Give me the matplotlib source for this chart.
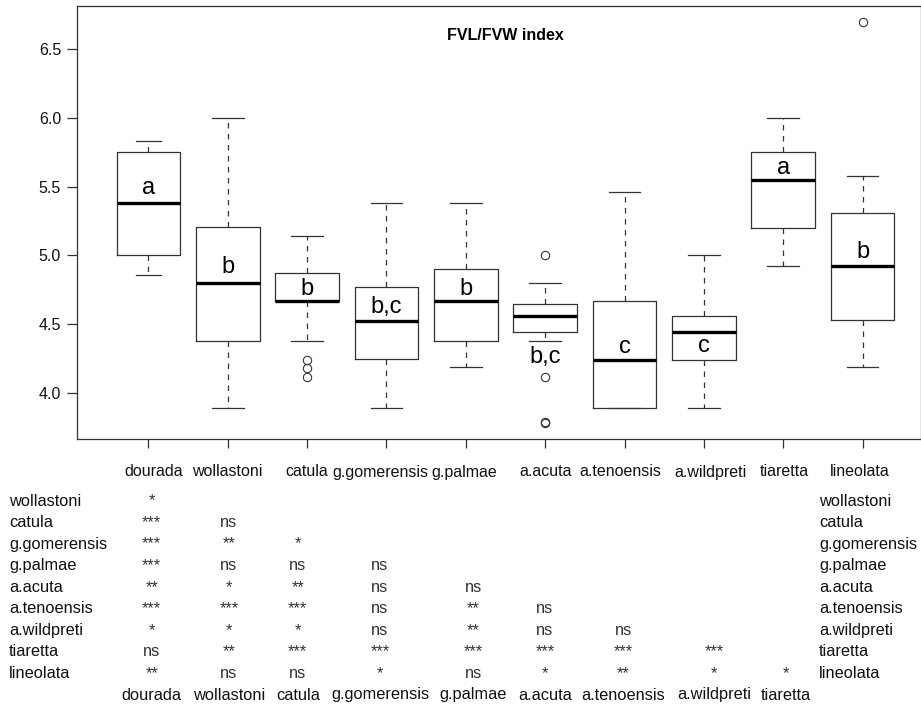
import matplotlib
matplotlib.use('Agg')
import matplotlib.pyplot as plt

plt.rcParams['font.family'] = ['Liberation Sans', 'DejaVu Sans']

# ---------------- data ----------------
groups = ['dourada', 'wollastoni', 'catula', 'g.gomerensis', 'g.palmae',
          'a.acuta', 'a.tenoensis', 'a.wildpreti', 'tiaretta', 'lineolata']
whisker_low = [4.86, 3.89, 4.38, 3.89, 4.19, 4.38, 3.89, 3.89, 4.92, 4.19]
quartile1 = [5.00, 4.38, 4.67, 4.25, 4.38, 4.44, 3.89, 4.24, 5.20, 4.53]
medians = [5.38, 4.80, 4.67, 4.52, 4.67, 4.56, 4.24, 4.44, 5.55, 4.92]
quartile3 = [5.75, 5.21, 4.87, 4.77, 4.90, 4.65, 4.67, 4.56, 5.75, 5.31]
whisker_high = [5.83, 6.00, 5.14, 5.38, 5.38, 4.80, 5.46, 5.00, 6.00, 5.58]
outliers = [[], [], [4.24, 4.18, 4.12], [], [], [5.00, 4.12, 3.79, 3.78],
            [], [], [], [6.70]]
group_letters = ['a', 'b', 'b', 'b,c', 'b', 'b,c', 'c', 'c', 'a', 'b']
yticks = [4.0, 4.5, 5.0, 5.5, 6.0, 6.5]
ytick_labels = ['4.0', '4.5', '5.0', '5.5', '6.0', '6.5']
title = 'FVL/FVW index'

# pairwise significance (rows = groups[1:], columns = groups[:-1])
sig_rows = groups[1:]
sig_cols = groups[:-1]
significance = [
    ['*'],
    ['***', 'ns'],
    ['***', '**', '*'],
    ['***', 'ns', 'ns', 'ns'],
    ['**', '*', '**', 'ns', 'ns'],
    ['***', '***', '***', 'ns', '**', 'ns'],
    ['*', '*', '*', 'ns', '**', 'ns', 'ns'],
    ['ns', '**', '***', '***', '***', '***', '***', '***'],
    ['**', 'ns', 'ns', '*', 'ns', '*', '**', '*', '*'],
]

# ---------------- layout (pixels / data-space placement) ----------------
W, H = 921, 706
letter_baseline = [5.45, 4.87, 4.71, 4.58, 4.71, 4.22, 4.29, 4.30, 5.59, 4.98]
cap_widths = [0.32, 0.4, 0.4, 0.4, 0.4, 0.4, 0.4, 0.4, 0.4, 0.4]
header_px = [154, 227, 306.7, 380.3, 464.5, 545.5, 620.8, 710.8, 784, 860]
col_px = [151.7, 229, 297.7, 380, 473.3, 545, 623.3, 714, 785.7]
header_base = 476.5
row_base0 = 505.5
row_step = 21.55
bottom_base = 699.5
line_col = '#333333'
fs = 11.5
fs_head = 11.5
fs_tab = 11.8

fig = plt.figure(figsize=(W / 100, H / 100), dpi=100)
ax = fig.add_axes([77 / W, 1 - 439 / H, (920.5 - 77) / W, (439 - 5.7) / H])

stats = []
for i in range(len(groups)):
    stats.append(dict(med=medians[i], q1=quartile1[i], q3=quartile3[i],
                      whislo=whisker_low[i], whishi=whisker_high[i],
                      fliers=outliers[i], label=groups[i]))

positions = list(range(1, len(groups) + 1))
ax.bxp(stats, positions=positions, widths=0.8, capwidths=cap_widths,
       boxprops=dict(color=line_col, lw=0.9),
       whiskerprops=dict(color=line_col, lw=0.9, linestyle=(0, (4.4, 4.4))),
       capprops=dict(color=line_col, lw=0.9),
       medianprops=dict(color='black', lw=2.4, solid_capstyle='butt'),
       flierprops=dict(marker='o', markerfacecolor='none',
                       markeredgecolor=line_col, markersize=6,
                       markeredgewidth=0.8),
       showfliers=True)

for p, lab, yb in zip(positions, group_letters, letter_baseline):
    ax.text(p, yb, lab, ha='center', va='baseline', fontsize=17, color='black')

ax.text(5.5, 6.60, title, ha='center', va='center', fontsize=fs,
        fontweight='bold', color='black')

ax.set_xlim(0.1, 10.73)
ax.set_ylim(3.666, 6.815)
ax.set_yticks(yticks)
ax.set_yticklabels(ytick_labels, fontsize=fs)
ax.set_xticks(positions)
ax.set_xticklabels([''] * len(positions))
ax.tick_params(axis='y', length=7.2, width=0.9, pad=4.3, color=line_col,
               labelcolor='#111111')
ax.tick_params(axis='x', length=6.5, width=0.9, color=line_col)
for s in ax.spines.values():
    s.set_color(line_col)
    s.set_linewidth(0.9)


def fx(px):
    return px / W


def fy(py):
    return 1 - py / H


# header labels (under the axis)
for lab, px in zip(groups, header_px):
    fig.text(fx(px), fy(header_base), lab, ha='center', va='baseline',
             fontsize=fs_head, color='#111111')

# significance table
for r, (rowlab, vals) in enumerate(zip(sig_rows, significance)):
    yb = row_base0 + r * row_step
    fig.text(fx(9), fy(yb), rowlab, ha='left', va='baseline', fontsize=fs_tab,
             color='#111111')
    fig.text(fx(819), fy(yb), rowlab, ha='left', va='baseline',
             fontsize=fs_tab, color='#111111')
    for c, v in enumerate(vals):
        fig.text(fx(col_px[c]), fy(yb), v, ha='center', va='baseline',
                 fontsize=fs_tab, color='#333333')

for lab, px in zip(sig_cols, col_px):
    fig.text(fx(px), fy(bottom_base), lab, ha='center', va='baseline',
             fontsize=fs_tab, color='#111111')

fig.savefig('out.png', dpi=100)
